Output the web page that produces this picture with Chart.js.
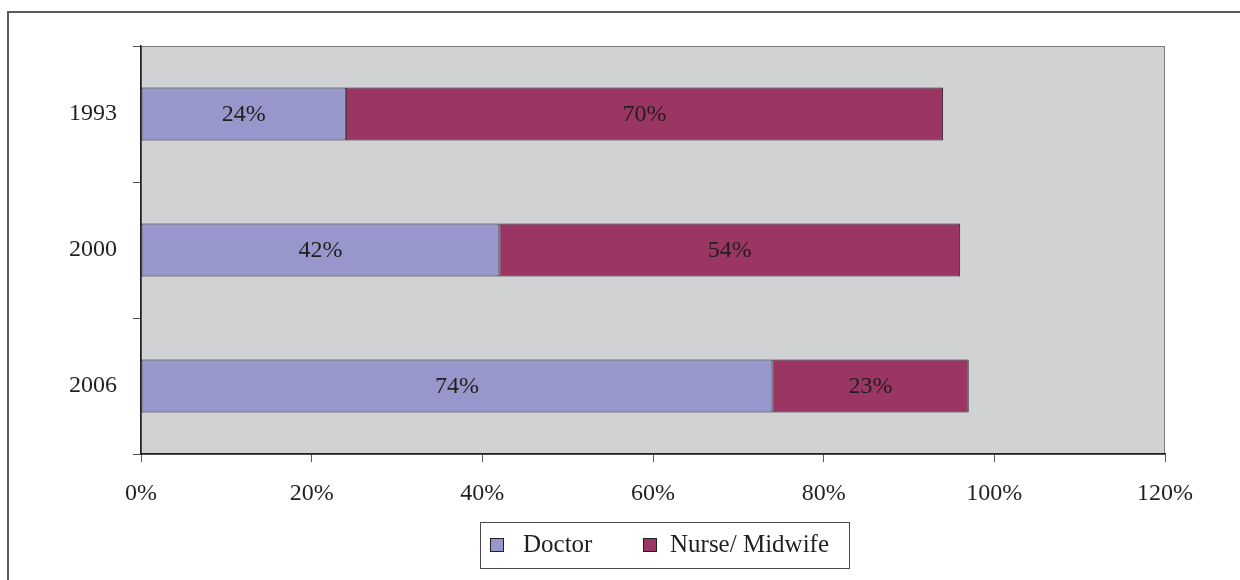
<!DOCTYPE html>
<html>
<head>
<meta charset="utf-8">
<script src="https://cdn.jsdelivr.net/npm/chart.js@4/dist/chart.umd.min.js"></script>
<style>
  html, body { margin: 0; padding: 0; background: #ffffff; }
  #wrap { width: 1240px; height: 580px; position: relative; }
  canvas { display: block; }
</style>
</head>
<body>
<div id="wrap"><canvas id="c" width="1240" height="580"></canvas></div>
<script>
// ---- data ----
const categories = ['1993', '2000', '2006'];
const doctorValues = [24, 42, 74];
const nurseValues = [70, 54, 23];
const seriesNames = ['Doctor', 'Nurse/ Midwife'];
const xTickValues = [0, 20, 40, 60, 80, 100, 120];

// ---- styles ----
const FONT = '"Liberation Serif", "Times New Roman", serif';
const INK = '#231F20';
const doctorColor = '#9797CB';
const nurseColor = '#9A3564';
const plotBg = '#D1D2D4';

const framePlugin = {
  id: 'frame',
  beforeDraw(chart) {
    const ctx = chart.ctx;
    const a = chart.chartArea;
    ctx.save();
    ctx.fillStyle = '#ffffff';
    ctx.fillRect(0, 0, chart.width, chart.height);
    // outer frame (top + left visible)
    ctx.strokeStyle = '#5A5A5A';
    ctx.lineWidth = 2;
    ctx.beginPath();
    ctx.moveTo(8, chart.height + 5);
    ctx.lineTo(8, 12);
    ctx.lineTo(chart.width + 5, 12);
    ctx.stroke();
    // plot area
    ctx.fillStyle = plotBg;
    ctx.fillRect(a.left, a.top, a.right - a.left, a.bottom - a.top);
    ctx.strokeStyle = '#7A7A7A';
    ctx.lineWidth = 1;
    ctx.strokeRect(a.left + 0.5, a.top + 0.5, a.right - a.left - 1, a.bottom - a.top);
    ctx.restore();
  },
  afterDatasetsDraw(chart) {
    const ctx = chart.ctx;
    ctx.save();
    ctx.font = '24px ' + FONT;
    ctx.fillStyle = INK;
    ctx.textAlign = 'center';
    ctx.textBaseline = 'middle';
    chart.data.datasets.forEach((ds, di) => {
      const meta = chart.getDatasetMeta(di);
      meta.data.forEach((el, i) => {
        const props = el.getProps(['x', 'y', 'base'], true);
        ctx.fillText(ds.data[i] + '%', (props.x + props.base) / 2, props.y + 1);
      });
    });
    ctx.restore();
  },
  afterDraw(chart) {
    // legend box
    const ctx = chart.ctx;
    ctx.save();
    ctx.strokeStyle = '#4A4A4A';
    ctx.lineWidth = 1;
    ctx.strokeRect(480.5, 522.5, 369, 46);
    const items = [
      { box: 490, text: 523 },
      { box: 643, text: 670 }
    ];
    ctx.font = '25px ' + FONT;
    ctx.textAlign = 'left';
    ctx.textBaseline = 'alphabetic';
    chart.data.datasets.forEach((ds, i) => {
      const it = items[i];
      ctx.fillStyle = ds.backgroundColor;
      ctx.fillRect(it.box, 538, 14, 14);
      ctx.strokeStyle = INK;
      ctx.strokeRect(it.box + 0.5, 538.5, 13, 13);
      ctx.fillStyle = INK;
      ctx.fillText(ds.label, it.text, 552);
    });
    ctx.restore();
  }
};

new Chart(document.getElementById('c'), {
  type: 'bar',
  data: {
    labels: categories,
    datasets: [
      {
        label: seriesNames[0],
        data: doctorValues,
        backgroundColor: doctorColor,
        borderColor: INK,
        borderWidth: 1,
        borderSkipped: false,
        barPercentage: 0.39,
        categoryPercentage: 1.0
      },
      {
        label: seriesNames[1],
        data: nurseValues,
        backgroundColor: nurseColor,
        borderColor: INK,
        borderWidth: 1,
        borderSkipped: false,
        barPercentage: 0.39,
        categoryPercentage: 1.0
      }
    ]
  },
  options: {
    indexAxis: 'y',
    responsive: false,
    animation: false,
    devicePixelRatio: 1,
    layout: { padding: { top: 46, left: 0, right: 75, bottom: 56 } },
    plugins: {
      legend: { display: false },
      tooltip: { enabled: false }
    },
    scales: {
      x: {
        stacked: true,
        min: xTickValues[0],
        max: xTickValues[xTickValues.length - 1],
        afterBuildTicks(scale) { scale.ticks = xTickValues.map(v => ({ value: v })); },
        afterFit(scale) { scale.height = 70; },
        ticks: {
          callback: v => v + '%',
          font: { family: FONT, size: 24 },
          color: INK,
          padding: 17,
          maxRotation: 0,
          autoSkip: false
        },
        grid: { drawOnChartArea: false, drawTicks: true, tickLength: 8, tickColor: '#555555' },
        border: { color: INK, width: 1.5 }
      },
      y: {
        stacked: true,
        afterFit(scale) { scale.width = 141; },
        ticks: {
          font: { family: FONT, size: 24 },
          color: INK,
          padding: 16
        },
        grid: { drawOnChartArea: false, drawTicks: true, tickLength: 8, tickColor: '#555555', offset: true },
        border: { color: INK, width: 1.5 }
      }
    }
  },
  plugins: [framePlugin]
});
</script>
</body>
</html>
